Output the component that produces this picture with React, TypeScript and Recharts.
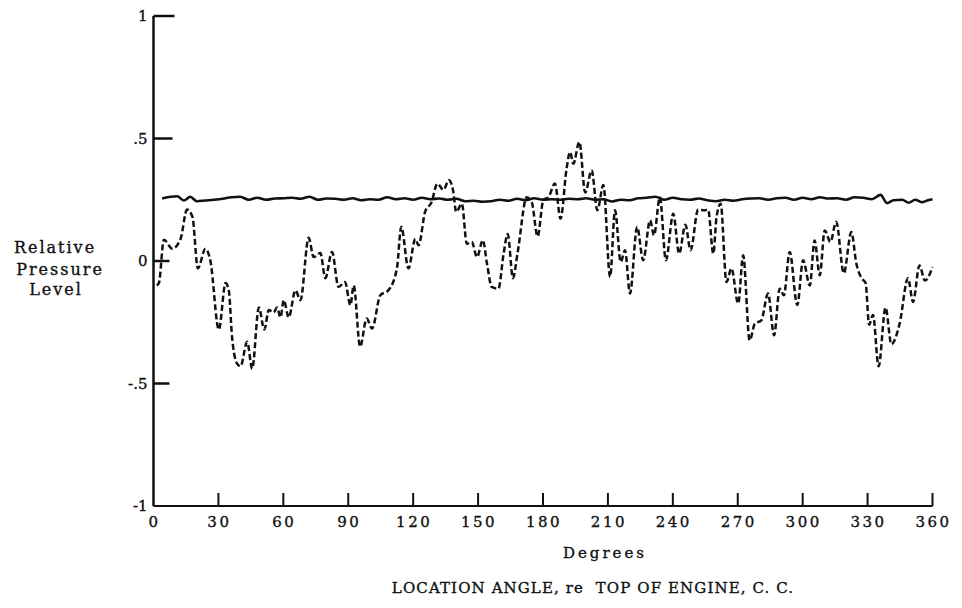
import React from "react";
import { LineChart, Line, XAxis, YAxis } from "recharts";

const xTicks = [0, 30, 60, 90, 120, 150, 180, 210, 240, 270, 300, 330, 360];
const yTicks = [-1, -0.5, 0, 0.5, 1];
const yTickLabels = ["-1", "-.5", "0", ".5", "1"];

const dashedDeg = [
  1.5, 2.5, 4.8, 8.7, 12.5, 15.5, 18, 20.5, 24, 26.3, 30.2, 33.3, 34.8, 36.3, 38.7, 40.2,
  43.3, 45.6, 48.7, 51.2, 53.3, 55.5, 57.1, 58.7, 60.2, 62.5, 65.6, 67.9, 71.7, 74, 77.1,
  79.4, 82.5, 85.5, 88.5, 91, 92.5, 95.5, 98.5, 101, 104.8, 108.5, 112.5, 114.5, 117.8, 121,
  122.5, 125.5, 128.5, 131.2, 134, 136.5, 138.4, 139.9, 142.5, 144.8, 147.1, 149.5, 152.2,
  154.1, 156.3, 159.4, 161.8, 163.7, 166.1, 168.2, 172.5, 174.8, 177.5, 180.2, 182.5, 185.5,
  188.1, 190.9, 192.5, 194, 196.8, 199.5, 202.5, 205.1, 207.9, 211, 213.3, 215.9, 217.9,
  220.2, 223.5, 226.3, 229.5, 231.3, 234, 236.8, 240.2, 242.9, 245.8, 248.2, 251.7, 254.8,
  256.3, 258.7, 260.2, 262.1, 264.8, 267.1, 270.2, 272.5, 275.5, 277.9, 280.9, 284, 286.8,
  289.4, 291.3, 294, 297.5, 300.2, 303.3, 305.5, 307.9, 310.2, 312.8, 315.5, 319, 322.5,
  324.8, 327.2, 329.1, 330.7, 332.5, 335.1, 338.3, 341, 344.8, 348.7, 351, 354, 356.5, 360,
];
const dashedVal = [
  -0.1, -0.09, 0.087, 0.05, 0.09, 0.21, 0.18, -0.03, 0.05, 0.0, -0.28, -0.09, -0.12, -0.31,
  -0.42, -0.43, -0.33, -0.44, -0.19, -0.28, -0.2, -0.21, -0.19, -0.23, -0.16, -0.23, -0.12,
  -0.16, 0.095, 0.016, 0.033, -0.07, 0.037, -0.106, -0.086, -0.18, -0.1, -0.35, -0.235,
  -0.276, -0.14, -0.12, -0.03, 0.14, -0.03, 0.09, 0.064, 0.2, 0.24, 0.316, 0.29, 0.33, 0.29,
  0.2, 0.234, 0.07, 0.078, 0.016, 0.085, -0.01, -0.106, -0.113, 0.03, 0.11, -0.07, 0.03,
  0.26, 0.24, 0.1, 0.25, 0.26, 0.316, 0.173, 0.377, 0.445, 0.397, 0.486, 0.28, 0.37, 0.207,
  0.31, -0.065, 0.207, -0.004, 0.044, -0.133, 0.139, 0.003, 0.166, 0.105, 0.26, 0.003, 0.193,
  0.03, 0.148, 0.044, 0.21, 0.207, 0.21, 0.03, 0.18, 0.234, -0.086, -0.03, -0.174, 0.023,
  -0.324, -0.256, -0.242, -0.133, -0.303, -0.113, -0.14, 0.037, -0.18, 0.003, -0.1, 0.084,
  -0.058, 0.125, 0.078, 0.16, -0.05, 0.118, -0.01, -0.07, -0.09, -0.26, -0.22, -0.43, -0.19,
  -0.34, -0.256, -0.07, -0.167, -0.018, -0.08, -0.025,
];

const solidDeg = [
  4, 8, 11, 14, 17, 20, 24, 28, 32, 36, 40, 44, 48, 52, 56, 60, 64, 68, 72, 76, 80, 84, 88,
  92, 96, 100, 104, 108, 112, 116, 120, 124, 128, 132, 136, 140, 144, 148, 152, 156, 160,
  164, 168, 172, 176, 180, 184, 188, 192, 196, 200, 204, 208, 212, 216, 220, 224, 228, 232,
  236, 240, 244, 248, 252, 256, 260, 264, 268, 272, 276, 280, 284, 288, 292, 296, 300, 304,
  308, 312, 316, 320, 324, 328, 332, 336, 339, 342, 346, 349, 352, 355, 358, 360,
];
const solidVal = [
  0.255, 0.262, 0.264, 0.247, 0.262, 0.244, 0.247, 0.25, 0.254, 0.26, 0.262, 0.25, 0.258,
  0.25, 0.255, 0.256, 0.258, 0.254, 0.262, 0.25, 0.255, 0.254, 0.25, 0.256, 0.248, 0.252,
  0.25, 0.26, 0.252, 0.256, 0.25, 0.258, 0.252, 0.255, 0.25, 0.254, 0.244, 0.246, 0.242,
  0.244, 0.25, 0.246, 0.254, 0.248, 0.256, 0.25, 0.252, 0.25, 0.254, 0.252, 0.256, 0.25,
  0.252, 0.243, 0.25, 0.248, 0.256, 0.258, 0.262, 0.25, 0.258, 0.252, 0.25, 0.255, 0.248,
  0.244, 0.25, 0.246, 0.252, 0.255, 0.256, 0.25, 0.256, 0.258, 0.25, 0.258, 0.252, 0.26,
  0.255, 0.256, 0.25, 0.26, 0.258, 0.252, 0.27, 0.236, 0.248, 0.25, 0.238, 0.25, 0.24,
  0.248, 0.252,
];

const dashedData = dashedDeg.map((d, i) => ({ deg: d, v: dashedVal[i] }));
const solidData = solidDeg.map((d, i) => ({ deg: d, v: solidVal[i] }));

const FONT = "'DejaVu Serif', 'Liberation Serif', serif";
const INK = "#111";
const TXT = { fontFamily: FONT, fill: INK, stroke: INK, strokeWidth: 0.35 };

const yTickLen: Record<string, number> = { "1": 21, "0.5": 19, "0": 16, "-0.5": 16, "-1": 0 };

const YTick = (props: any) => {
  const { x, y, payload } = props;
  const idx = yTicks.indexOf(payload.value);
  const len = yTickLen[String(payload.value)] ?? 16;
  return (
    <g>
      {len > 0 && <line x1={x} x2={x + len} y1={y} y2={y} stroke={INK} strokeWidth={2.5} />}
      <text x={x - 6} y={y} dy={5} textAnchor="end" fontSize={15} {...TXT}>
        {yTickLabels[idx]}
      </text>
    </g>
  );
};

const XTick = (props: any) => {
  const { x, y, payload } = props;
  return (
    <g>
      {payload.value !== 0 && (
        <line x1={x} x2={x} y1={y} y2={y - 13} stroke={INK} strokeWidth={2} />
      )}
      <text
        x={x + 1}
        y={y}
        dy={21}
        textAnchor="middle"
        fontSize={15}
        letterSpacing={2.5}
        {...TXT}
      >
        {payload.value}
      </text>
    </g>
  );
};

export default function App() {
  return (
    <div style={{ position: "absolute", left: 0, top: 0, width: 962, height: 608, background: "#fff" }}>
      <LineChart
        width={962}
        height={608}
        margin={{ top: 16, right: 29.5, left: 113.5, bottom: 72 }}
      >
        <XAxis
          type="number"
          dataKey="deg"
          domain={[0, 360]}
          ticks={xTicks}
          interval={0}
          height={30}
          tickSize={0}
          tickMargin={0}
          tickLine={false}
          tick={<XTick />}
          axisLine={{ stroke: INK, strokeWidth: 2 }}
          allowDuplicatedCategory={false}
        />
        <YAxis
          type="number"
          dataKey="v"
          domain={[-1, 1]}
          ticks={yTicks}
          interval={0}
          width={40}
          tickSize={0}
          tickMargin={0}
          tickLine={false}
          tick={<YTick />}
          axisLine={{ stroke: INK, strokeWidth: 2.5 }}
        />
        <Line
          data={solidData}
          dataKey="v"
          type="monotone"
          stroke={INK}
          strokeWidth={2.6}
          dot={false}
          isAnimationActive={false}
        />
        <Line
          data={dashedData}
          dataKey="v"
          type="monotone"
          stroke={INK}
          strokeWidth={2.5}
          strokeDasharray="6 3"
          dot={false}
          isAnimationActive={false}
        />
      </LineChart>
      <svg
        width={962}
        height={608}
        style={{ position: "absolute", left: 0, top: 0, pointerEvents: "none" }}
      >
        <g fontSize={16} letterSpacing={2} textAnchor="middle" {...TXT}>
          <text x={55} y={253}>Relative</text>
          <text x={60} y={275}>Pressure</text>
          <text x={56} y={295}>Level</text>
        </g>
        <text x={605} y={558} textAnchor="middle" fontSize={15} letterSpacing={3} {...TXT}>
          Degrees
        </text>
        <text
          x={593}
          y={593}
          textAnchor="middle"
          fontSize={15}
          letterSpacing={1.1}
          style={{ whiteSpace: "pre" }}
          {...TXT}
        >
          {"LOCATION ANGLE, re  TOP OF ENGINE, C. C."}
        </text>
      </svg>
    </div>
  );
}
